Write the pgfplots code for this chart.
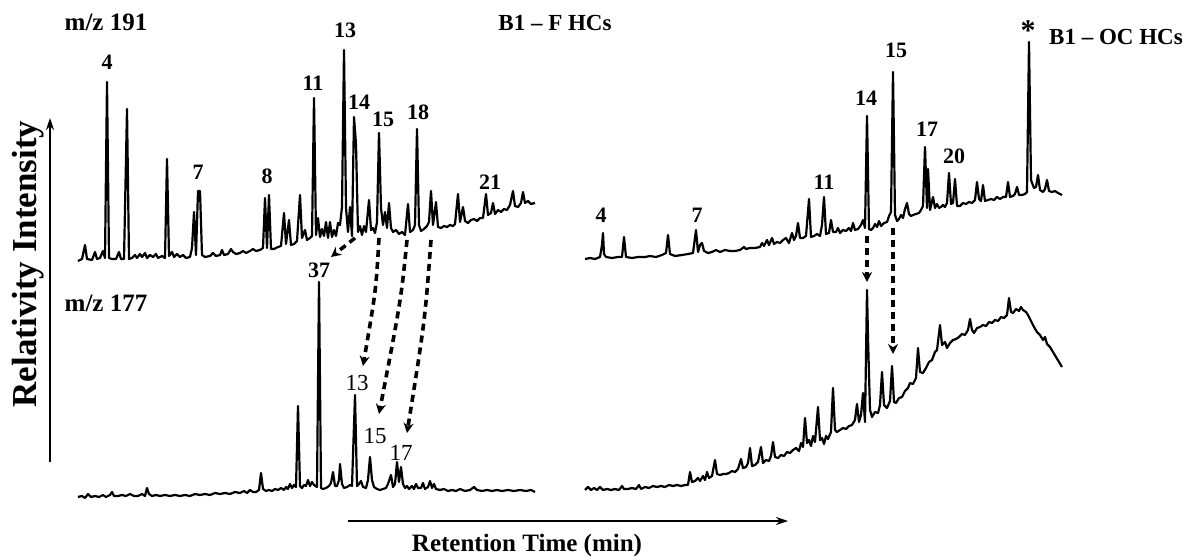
\documentclass[border=0pt]{standalone}
\usepackage{fontspec}
\setmainfont{Liberation Serif}
\usepackage{pgfplots}
\pgfplotsset{compat=1.18}
\usetikzlibrary{arrows.meta}
\newcommand\lab{\fontsize{11}{12}\selectfont\bfseries}
\newcommand\labr{\fontsize{11.5}{12}\selectfont}
\newcommand\ttl{\fontsize{12.5}{14}\selectfont\bfseries}
\newcommand\ttb{\fontsize{11.5}{14}\selectfont\bfseries}
\begin{document}
\begin{tikzpicture}
\begin{axis}[
  width=594.5pt, height=278.5pt, scale only axis,
  xmin=0, xmax=1189, ymin=0, ymax=557,
  y dir=reverse,
  axis lines=none, clip=false,
  cycle list={{black, mark=none}},
  every axis plot post/.append style={line width=1.1pt, line join=round},
]
\coordinate (bl) at (axis cs:0,557);
\coordinate (tr) at (axis cs:1189,0);

% m/z 191, B1 - F HCs
\addplot coordinates {
(78,261) (82,259) (85,245) (87,259) (92,260) (95,252) (97,259) (100,258) (103,251) (105,258) (107,82) (109,258) (112,259) (116,259) (119,252) (121,259) (124,259) (127,109) (129,259) (132,258) (135,255) (137,258) (140,254) (142,257) (145,253) (147,258) (150,255) (153,257) (156,254) (158,258) (162,256) (165,258) (167,159) (169,256) (172,252) (174,257) (177,254) (180,257) (183,255) (186,258) (190,257) (192,248) (194,212) (196,255) (198,191) (200,191) (202,255) (205,257) (210,256) (213,253) (216,256) (220,255) (222,250) (224,255) (228,254) (231,249) (233,252) (236,254) (240,253) (243,251) (246,253) (250,251) (253,249) (256,251) (260,250) (263,248) (265,198) (267,248) (269,195) (271,249) (274,249) (278,247) (281,246) (284,213) (286,244) (289,220) (291,245) (294,244) (297,241) (300,195) (302,238) (305,230) (307,240) (310,238) (312,236) (314,98) (316,235) (318,218) (320,237) (322,229) (324,236) (326,222) (328,238) (330,222) (332,237) (334,230) (336,236) (338,223) (340,225) (342,207) (344,50) (346,208) (348,232) (350,207) (352,236) (354,117) (356,144) (358,232) (360,226) (362,235) (364,226) (366,232) (369,200) (371,230) (373,228) (375,233) (377,222) (379,133) (381,208) (383,225) (385,212) (387,228) (389,203) (391,228) (393,232) (396,230) (399,234) (402,232) (405,235) (408,204) (410,232) (413,230) (415,225) (417,129) (419,225) (421,231) (424,229) (427,226) (429,222) (431,191) (433,225) (436,202) (438,227) (441,228) (444,226) (447,227) (450,225) (453,226) (455,224) (458,194) (460,222) (463,207) (465,221) (468,223) (471,220) (474,219) (477,221) (480,218) (483,218) (486,194) (488,215) (491,213) (493,203) (495,214) (498,210) (501,212) (504,209) (507,210) (510,205) (513,191) (515,206) (518,207) (521,203) (523,192) (525,203) (528,201) (531,204) (535,203)
};

% m/z 191, B1 - OC HCs
\addplot coordinates {
(585,259) (590,258) (595,259) (600,257) (602,245) (603,233) (604,254) (606,257) (612,258) (618,257) (622,257) (624,237) (626,257) (632,258) (638,257) (645,257) (650,256) (656,257) (662,255) (666,253) (668,235) (670,254) (675,256) (682,255) (688,254) (693,253) (696,230) (698,252) (700,245) (702,243) (704,251) (708,253) (712,252) (716,250) (720,252) (725,250) (730,251) (735,251) (740,250) (744,247) (746,249) (750,248) (755,248) (760,247) (762,243) (764,246) (767,240) (769,245) (772,238) (774,244) (777,242) (780,243) (783,240) (786,238) (789,243) (792,233) (794,240) (796,236) (798,223) (800,238) (803,238) (806,236) (809,199) (811,237) (814,236) (817,234) (820,236) (822,225) (824,197) (826,234) (829,233) (831,220) (833,232) (836,232) (838,228) (840,233) (843,230) (846,231) (849,228) (851,231) (853,223) (855,230) (858,229) (861,225) (863,220) (865,228) (867,116) (869,229) (871,230) (873,228) (875,224) (877,227) (879,221) (881,226) (884,223) (887,222) (889,216) (891,212) (893,72) (895,215) (897,221) (899,219) (901,215) (903,218) (905,209) (907,203) (909,214) (911,216) (913,215) (916,214) (919,213) (921,210) (923,206) (925,147) (927,208) (928,169) (930,210) (933,197) (935,208) (937,204) (939,208) (941,207) (943,205) (945,207) (947,203) (949,173) (951,204) (953,203) (955,179) (957,206) (960,206) (963,203) (966,204) (969,202) (972,203) (975,200) (977,182) (979,199) (981,201) (983,185) (985,201) (988,200) (991,199) (994,200) (997,197) (1000,199) (1003,197) (1006,197) (1008,182) (1010,197) (1013,196) (1015,194) (1017,187) (1019,195) (1022,195) (1025,194) (1027,192) (1029,42) (1031,180) (1034,188) (1036,187) (1038,175) (1040,190) (1043,192) (1045,189) (1047,180) (1049,191) (1052,192) (1055,191) (1058,193) (1062,195)
};

% m/z 177, B1 - F HCs
\addplot coordinates {
(78,497) (82,496) (85,498) (88,494) (91,497) (95,496) (99,497) (103,495) (106,497) (110,495) (112,492) (114,496) (118,496) (122,495) (126,496) (130,494) (134,496) (138,496) (142,494) (145,496) (147,488) (149,494) (152,496) (156,495) (160,496) (165,495) (170,496) (175,495) (180,496) (185,495) (190,496) (195,494) (200,495) (205,494) (210,495) (215,493) (220,494) (225,493) (230,494) (235,492) (240,493) (244,491) (247,493) (250,490) (253,492) (256,492) (259,490) (261,473) (263,489) (266,491) (269,490) (272,491) (275,489) (278,490) (281,488) (284,490) (286,487) (288,489) (290,484) (292,488) (294,485) (296,487) (298,406) (300,486) (302,488) (304,485) (306,486) (308,480) (310,486) (312,482) (314,485) (317,487) (319,282) (321,488) (323,489) (326,488) (329,486) (331,483) (333,472) (335,486) (337,486) (339,480) (340,464) (342,484) (344,488) (347,487) (350,485) (352,486) (355,395) (357,486) (359,484) (361,481) (363,487) (366,488) (368,480) (370,457) (372,480) (374,487) (377,489) (380,490) (383,489) (386,488) (388,484) (391,475) (393,487) (395,484) (397,462) (399,482) (401,467) (403,484) (405,488) (407,486) (409,489) (412,486) (414,489) (416,484) (418,488) (421,488) (423,483) (425,489) (428,487) (430,481) (432,488) (434,484) (436,489) (440,490) (444,489) (448,491) (452,490) (456,491) (460,489) (465,491) (470,490) (474,487) (477,490) (482,491) (487,490) (492,491) (497,490) (502,491) (508,490) (514,491) (520,490) (526,491) (531,490) (535,492)
};

% m/z 177, B1 - OC HCs
\addplot coordinates {
(585,490) (588,487) (591,490) (594,488) (597,490) (600,487) (603,490) (607,489) (611,490) (615,489) (619,490) (622,486) (624,489) (628,489) (632,488) (636,489) (639,485) (641,489) (645,487) (649,488) (653,486) (657,487) (661,486) (665,487) (669,485) (673,486) (677,485) (681,486) (685,485) (688,485) (690,472) (692,482) (695,481) (698,478) (700,481) (703,476) (705,480) (707,472) (709,478) (712,476) (715,460) (717,474) (720,475) (723,474) (726,474) (729,473) (732,471) (735,472) (738,469) (741,459) (743,468) (746,467) (748,463) (750,448) (752,466) (755,465) (758,462) (761,447) (763,463) (766,460) (769,461) (771,456) (773,442) (775,457) (778,458) (781,455) (784,456) (787,452) (790,453) (793,450) (796,448) (799,451) (801,443) (803,447) (805,418) (807,443) (809,440) (811,446) (813,436) (815,442) (818,407) (820,440) (822,438) (824,444) (826,436) (828,439) (831,432) (833,388) (835,430) (837,432) (840,430) (843,428) (846,429) (849,426) (852,425) (855,420) (857,404) (859,422) (861,415) (863,393) (865,422) (867,290) (868,338) (870,410) (872,417) (875,412) (878,413) (880,405) (882,372) (884,405) (887,408) (890,401) (892,366) (894,402) (896,403) (899,398) (902,397) (905,391) (908,388) (910,383) (913,384) (916,378) (918,348) (920,372) (923,373) (926,368) (929,362) (932,360) (935,352) (937,350) (940,325) (942,345) (945,342) (947,348) (950,343) (953,340) (956,339) (959,337) (962,334) (965,335) (968,330) (970,319) (972,330) (974,333) (977,328) (980,327) (983,325) (986,326) (989,322) (992,323) (995,320) (998,321) (1001,317) (1004,318) (1007,315) (1009,298) (1011,312) (1013,313) (1016,309) (1019,311) (1021,307) (1023,310) (1026,312) (1028,315) (1031,321) (1034,327) (1037,332) (1040,335) (1043,340) (1045,337) (1047,344) (1050,347) (1053,352) (1056,357) (1059,362) (1062,367)
};

% titles
\node[font=\ttl] at (axis cs:106,22) {m/z 191};
\node[font=\ttb] at (axis cs:555,23) {B1 – F HCs};
\node[font=\ttb] at (axis cs:1116,37) {B1 – OC HCs};
\node[font=\ttl] at (axis cs:106,303) {m/z 177};

% peak labels, top left
\node[font=\lab] at (axis cs:107,62) {4};
\node[font=\lab] at (axis cs:198,172) {7};
\node[font=\lab] at (axis cs:267,176) {8};
\node[font=\lab] at (axis cs:313,83) {11};
\node[font=\lab] at (axis cs:345,30) {13};
\node[font=\lab] at (axis cs:359,102) {14};
\node[font=\lab] at (axis cs:383,119) {15};
\node[font=\lab] at (axis cs:418,112) {18};
\node[font=\lab] at (axis cs:490,182) {21};
% top right
\node[font=\lab] at (axis cs:601,215) {4};
\node[font=\lab] at (axis cs:697,215) {7};
\node[font=\lab] at (axis cs:824,182) {11};
\node[font=\lab] at (axis cs:866,98) {14};
\node[font=\lab] at (axis cs:896,50) {15};
\node[font=\lab] at (axis cs:927,129) {17};
\node[font=\lab] at (axis cs:954,156) {20};
\node[font=\fontsize{15}{15}\selectfont\bfseries] at (axis cs:1028,31) {*};
% bottom left
\node[font=\lab] at (axis cs:319,270) {37};
\node[font=\labr] at (axis cs:357,383) {13};
\node[font=\labr] at (axis cs:375,436) {15};
\node[font=\labr] at (axis cs:401,453) {17};

% dashed arrows
\begin{scope}[line width=1.8pt, dash pattern=on 3.5pt off 2.5pt, -{Stealth[length=5pt,width=5pt]}]
\draw (axis cs:355,238) -- (axis cs:331,257);
\draw (axis cs:379,238) .. controls (axis cs:376,290) .. (axis cs:363,366);
\draw (axis cs:407,240) .. controls (axis cs:401,300) .. (axis cs:379,414);
\draw (axis cs:431,240) .. controls (axis cs:425,320) .. (axis cs:407,433);
\draw (axis cs:867,236) -- (axis cs:867,282);
\draw (axis cs:893,228) -- (axis cs:893,354);
\end{scope}

% axis arrows
\draw[line width=0.7pt, -{Stealth[length=6pt,width=4pt]}] (axis cs:50,462) -- (axis cs:50,118);
\draw[line width=0.7pt, -{Stealth[length=6pt,width=4pt]}] (axis cs:348,521) -- (axis cs:788,521);
\node[font=\fontsize{12.5}{14}\selectfont\bfseries] at (axis cs:527,545) {Retention Time (min)};
\node[font=\fontsize{17.5}{19}\selectfont\bfseries, rotate=90] at (axis cs:28,264) {Relativity Intensity};
\end{axis}
\pgfresetboundingbox
\path (bl) rectangle (tr);
\end{tikzpicture}
\end{document}
